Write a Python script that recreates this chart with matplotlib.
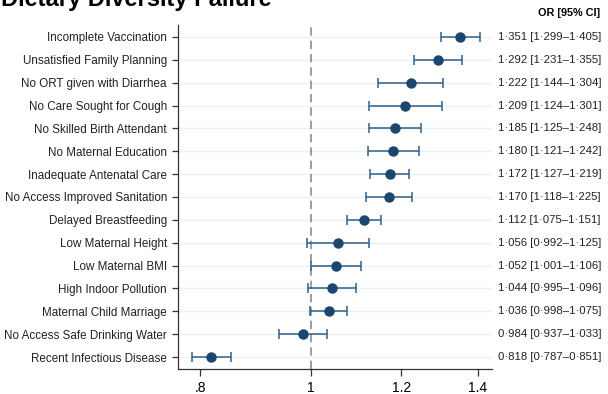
import numpy as np
import matplotlib
matplotlib.use("Agg")
import matplotlib.pyplot as plt
from matplotlib.ticker import FixedLocator, FixedFormatter, NullLocator

plt.rcParams['font.family'] = ['Liberation Sans', 'DejaVu Sans']

labels = ["Incomplete Vaccination", "Unsatisfied Family Planning", "No ORT given with Diarrhea",
          "No Care Sought for Cough", "No Skilled Birth Attendant", "No Maternal Education",
          "Inadequate Antenatal Care", "No Access Improved Sanitation", "Delayed Breastfeeding",
          "Low Maternal Height", "Low Maternal BMI", "High Indoor Pollution",
          "Maternal Child Marriage", "No Access Safe Drinking Water", "Recent Infectious Disease"]
odds = [1.351, 1.292, 1.222, 1.209, 1.185, 1.180, 1.172, 1.170, 1.112, 1.056, 1.052, 1.044, 1.036, 0.984, 0.818]
lower = [1.299, 1.231, 1.144, 1.124, 1.125, 1.121, 1.127, 1.118, 1.075, 0.992, 1.001, 0.995, 0.998, 0.937, 0.787]
upper = [1.405, 1.355, 1.304, 1.301, 1.248, 1.242, 1.219, 1.225, 1.151, 1.125, 1.106, 1.096, 1.075, 1.033, 0.851]
xticks = [0.8, 1.0, 1.2, 1.4]
xtick_labels = [".8", "1", "1.2", "1.4"]

odds = np.array(odds)
lower = np.array(lower)
upper = np.array(upper)
y = np.arange(len(labels))

fig = plt.figure(figsize=(6.08, 3.94), dpi=100)
ax = fig.add_axes([178/608, 1-369/394, (492-178)/608, (369-25)/394])

for yi in y:
    ax.axhline(yi, color="#eaf2f3", lw=1.0, zorder=0)
ax.axvline(1.0, color="#8c8c8c", lw=1.2, ls=(0, (5, 3)), zorder=1)

ax.errorbar(odds, y, xerr=[odds-lower, upper-odds], fmt="none", ecolor="#2f5f8a",
            elinewidth=1.1, capsize=3.5, capthick=1.1, zorder=2)
ax.plot(odds, y, "o", color="#1a476f", ms=6.5, zorder=3)

ax.set_xscale("log")
ax.set_xlim(0.765, 1.44)
ax.set_ylim(len(labels)-0.48, -0.52)
ax.xaxis.set_major_locator(FixedLocator(xticks))
ax.xaxis.set_major_formatter(FixedFormatter(xtick_labels))
ax.xaxis.set_minor_locator(NullLocator())
ax.set_yticks(y)
ax.set_yticklabels(labels, fontsize=8.4, color="#222222")
ax.tick_params(axis="x", labelsize=10, length=5, width=0.9, color="#333333", pad=4)
ax.tick_params(axis="y", length=4, width=0.9, color="#333333", pad=4)
for s in ["top", "right"]:
    ax.spines[s].set_visible(False)
for s in ["left", "bottom"]:
    ax.spines[s].set_color("#333333")
    ax.spines[s].set_linewidth(0.9)

for yi, o, l, u in zip(y, odds, lower, upper):
    txt = f"{o:.3f} [{l:.3f}\u2013{u:.3f}]".replace(".", "\u00b7")
    ax.text(1.018, yi, txt, transform=ax.get_yaxis_transform(), ha="left", va="center",
            fontsize=8.2, color="#222222")

fig.text(600/608, 1-13/394, "OR [95% CI]", ha="right", va="center", fontsize=7.8, fontweight="bold")
fig.text(0.002, 1-6/394, "Dietary Diversity Failure", ha="left", va="baseline",
         fontsize=17, fontweight="bold")

fig.savefig("out.png", dpi=100)
